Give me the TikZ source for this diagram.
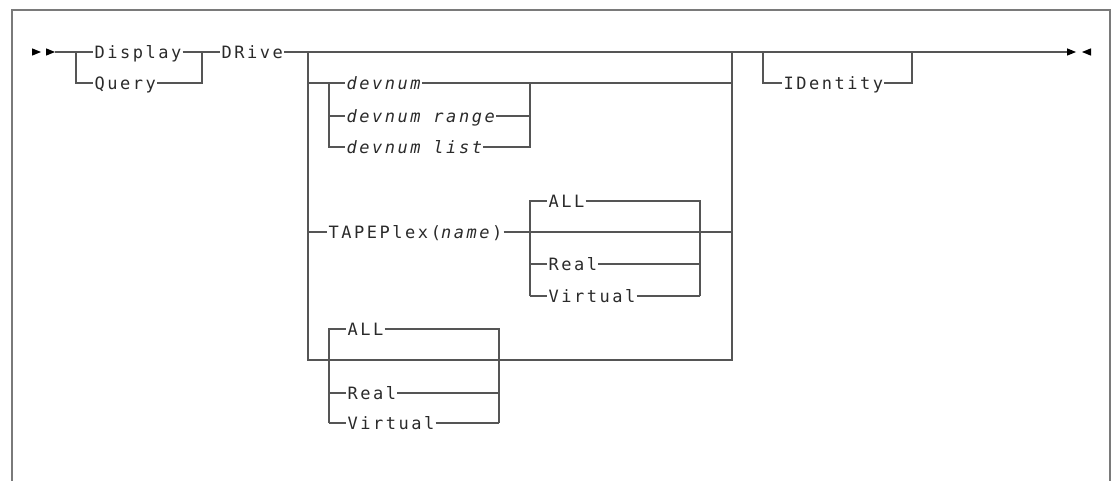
\documentclass[tikz,border=0pt]{standalone}
\usepackage{fontspec}
\newfontfamily\synfont[LetterSpace=15]{DejaVu Sans Mono}
\definecolor{railgray}{HTML}{555555}
\definecolor{framegray}{HTML}{7A7A7A}
\definecolor{inkgray}{HTML}{2A2A2A}
\tikzset{
  rail/.style={draw=railgray, line width=2pt},
  kw/.style={font=\synfont\fontsize{17}{20}\selectfont, text=inkgray,
             inner xsep=1pt, inner ysep=0pt, anchor=base west},
  tip/.style={fill=black, draw=none},
}
% keyword placed with its ink starting at x and its caps centred on rail y
\newcommand\kwnode[4]{\node[kw] (#1) at (#2-2.7,#3+6.2) {#4};}
\begin{document}
\begin{tikzpicture}[x=1pt,y=-1pt]
\useasboundingbox (0,0) rectangle (1113,481);
% page frame
\draw[framegray, line width=2.5pt] (12,481) -- (12,10) -- (1110,10) -- (1110,481);

% junction points
\coordinate (s0) at (55,52);
\coordinate (b1) at (76,52);  \coordinate (b1q) at (76,83);
\coordinate (m1) at (202,52); \coordinate (m1q) at (202,83);
\coordinate (b2) at (308,52); \coordinate (b2d) at (308,83);
\coordinate (b2t) at (308,232); \coordinate (b2b) at (308,360);
\coordinate (m2) at (732,52); \coordinate (m2d) at (732,83);
\coordinate (m2t) at (732,232); \coordinate (m2b) at (732,360);
\coordinate (bd) at (329,83); \coordinate (bdr) at (329,116); \coordinate (bdl) at (329,147);
\coordinate (md) at (530,83); \coordinate (mdr) at (530,116); \coordinate (mdl) at (530,147);
\coordinate (bt) at (530,232); \coordinate (bta) at (530,201);
\coordinate (btr) at (530,264); \coordinate (btv) at (530,296);
\coordinate (mt) at (700,232); \coordinate (mta) at (700,201);
\coordinate (mtr) at (700,264); \coordinate (mtv) at (700,296);
\coordinate (bb) at (329,360); \coordinate (bba) at (329,329);
\coordinate (bbr) at (329,393); \coordinate (bbv) at (329,423);
\coordinate (mb) at (499,360); \coordinate (mba) at (499,329);
\coordinate (mbr) at (499,393); \coordinate (mbv) at (499,423);
\coordinate (bi) at (763,52); \coordinate (bii) at (763,83);
\coordinate (mi) at (912,52); \coordinate (mii) at (912,83);
\coordinate (e0) at (1067,52);

% keywords and variables
\kwnode{disp}{96}{52}{Display}
\kwnode{query}{96}{83}{Query}
\kwnode{drive}{223}{52}{DRive}
\kwnode{dev}{348}{83}{\itshape devnum}
\kwnode{devr}{348}{116}{\itshape devnum range}
\kwnode{devl}{348}{147}{\itshape devnum list}
\kwnode{tplex}{330}{232}{TAPEPlex(\textit{name})}
\kwnode{tall}{550}{201}{ALL}
\kwnode{treal}{550}{264}{Real}
\kwnode{tvirt}{550}{296}{Virtual}
\kwnode{ball}{349}{329}{ALL}
\kwnode{breal}{349}{393}{Real}
\kwnode{bvirt}{349}{423}{Virtual}
\kwnode{ident}{785}{83}{IDentity}

% start and end marks
\fill[tip] (32,48.3) -- (41,52) -- (32,55.7) -- cycle;
\fill[tip] (46,48.3) -- (55,52) -- (46,55.7) -- cycle;
\fill[tip] (1067,48.3) -- (1076,52) -- (1067,55.7) -- cycle;
\fill[tip] (1091,48.3) -- (1082,52) -- (1091,55.7) -- cycle;

% Display / Query
\draw[rail] (s0) -- (b1) -- (disp.west |- b1);
\draw[rail] (b1) -- (b1q) -- (query.west |- b1q);
\draw[rail] (disp.east |- b1) -- (m1) -- (drive.west |- m1);
\draw[rail] (query.east |- b1q) -- (m1q) -- (m1);

% main rail after DRive
\draw[rail] (drive.east |- m1) -- (e0);

% outer choice block
\draw[rail] (b2) -- (b2b) -- (m2b) -- (m2);
\draw[rail] (b2d) -- (bd) -- (dev.west |- bd);
\draw[rail] (dev.east |- bd) -- (m2d);
\draw[rail] (bd) -- (bdl) -- (devl.west |- bdl);
\draw[rail] (bdr) -- (devr.west |- bdr);
\draw[rail] (devr.east |- bdr) -- (mdr);
\draw[rail] (devl.east |- bdl) -- (mdl) -- (md);

% TAPEPlex branch
\draw[rail] (b2t) -- (tplex.west |- b2t);
\draw[rail] (tplex.east |- b2t) -- (m2t);
\draw[rail] (btv) -- (bta) -- (tall.west |- bta);
\draw[rail] (tall.east |- bta) -- (mta) -- (mtv);
\draw[rail] (btr) -- (treal.west |- btr);
\draw[rail] (treal.east |- btr) -- (mtr);
\draw[rail] (btv) -- (tvirt.west |- btv);
\draw[rail] (tvirt.east |- btv) -- (mtv);

% ALL / Real / Virtual under the bottom rail
\draw[rail] (bbv) -- (bba) -- (ball.west |- bba);
\draw[rail] (ball.east |- bba) -- (mba) -- (mbv);
\draw[rail] (bbr) -- (breal.west |- bbr);
\draw[rail] (breal.east |- bbr) -- (mbr);
\draw[rail] (bbv) -- (bvirt.west |- bbv);
\draw[rail] (bvirt.east |- bbv) -- (mbv);

% optional IDentity
\draw[rail] (bi) -- (bii) -- (ident.west |- bii);
\draw[rail] (ident.east |- bii) -- (mii) -- (mi);
\end{tikzpicture}
\end{document}
